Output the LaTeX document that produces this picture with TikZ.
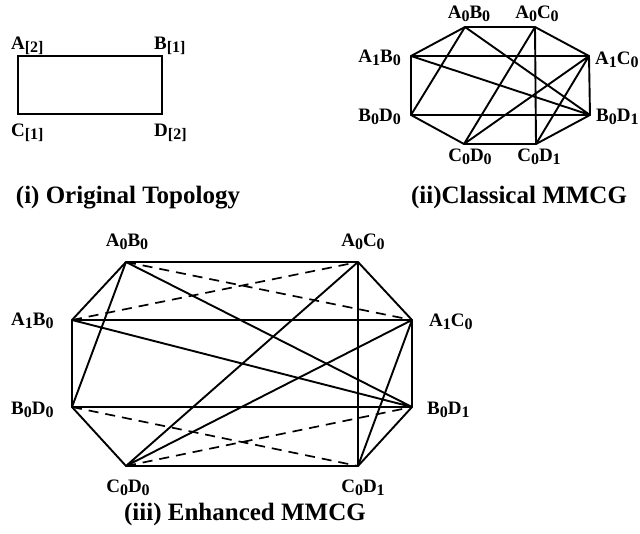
\documentclass[tikz,border=0pt]{standalone}
\usepackage{fontspec}
\setmainfont{Liberation Serif}
\usepackage{tikz}
\usetikzlibrary{calc,positioning}

\newcommand{\lsub}[1]{\raisebox{-3pt}{\fontsize{16}{17}\selectfont#1}}

\tikzset{
	edge/.style={line width=1.9pt},
	dashedge/.style={line width=1.7pt, dash pattern=on 10pt off 7pt},
	vlab/.style={font=\fontsize{19}{22}\selectfont\bfseries, inner sep=0pt},
	caption/.style={font=\fontsize{25}{30}\selectfont\bfseries, inner sep=0pt}
}

\begin{document}
\begin{tikzpicture}[x=1pt,y=-1pt]
		\useasboundingbox (0,0) rectangle (640,534);
		% original topology
		\coordinate (A) at (18,56);
		\coordinate (B) at (162,56);
		\coordinate (C) at (18,114);
		\coordinate (D) at (162,114);
		\draw[edge] (A) -- (B) -- (D) -- (C) -- cycle;
		\node[vlab, anchor=base west] (labA) at (11,50) {A\lsub{[2]}};
		\node[vlab, anchor=base west] (labB) at (154,50) {B\lsub{[1]}};
		\node[vlab, anchor=base west] (labC) at (11,137) {C\lsub{[1]}};
		\node[vlab, anchor=base west] (labD) at (154,137) {D\lsub{[2]}};
		\node[caption, anchor=base] (capi) at (128,204) {(i) Original Topology};
		% classical MMCG
		\coordinate (cA0B0) at (465,27);
		\coordinate (cA0C0) at (535,27);
		\coordinate (cA1B0) at (411,56);
		\coordinate (cA1C0) at (589,56);
		\coordinate (cB0D0) at (411,115);
		\coordinate (cB0D1) at (590,115);
		\coordinate (cC0D0) at (464,144);
		\coordinate (cC0D1) at (536,144);
		\draw[edge] (cA0B0) -- (cA0C0) -- (cA1C0) -- (cB0D1) -- (cC0D1) -- (cC0D0) -- (cB0D0) -- (cA1B0) -- cycle;
		\draw[edge] (cA1B0) -- (cA1C0) (cB0D0) -- (cB0D1) (cA0C0) -- (cC0D1);
		\draw[edge] (cA0B0) -- (cB0D0) (cA0B0) -- (cB0D1) (cA1B0) -- (cB0D1);
		\draw[edge] (cA0C0) -- (cC0D0) (cA1C0) -- (cC0D0) (cA1C0) -- (cC0D1);
		\node[vlab, anchor=base] (lcA0B0) at (469,19) {A\lsub{0}B\lsub{0}};
		\node[vlab, anchor=base] (lcA0C0) at (537,19) {A\lsub{0}C\lsub{0}};
		\node[vlab, anchor=base east] (lcA1B0) at (401,63) {A\lsub{1}B\lsub{0}};
		\node[vlab, anchor=base west] (lcA1C0) at (595,65) {A\lsub{1}C\lsub{0}};
		\node[vlab, anchor=base east] (lcB0D0) at (401,122) {B\lsub{0}D\lsub{0}};
		\node[vlab, anchor=base west] (lcB0D1) at (596,122) {B\lsub{0}D\lsub{1}};
		\node[vlab, anchor=base] (lcC0D0) at (470,162) {C\lsub{0}D\lsub{0}};
		\node[vlab, anchor=base] (lcC0D1) at (539,162) {C\lsub{0}D\lsub{1}};
		\node[caption, anchor=base] (capii) at (519,204) {(ii)Classical MMCG};
		% enhanced MMCG
		\coordinate (eA0B0) at (126,262);
		\coordinate (eA0C0) at (358,262);
		\coordinate (eA1B0) at (72,320);
		\coordinate (eA1C0) at (412,320);
		\coordinate (eB0D0) at (72,407);
		\coordinate (eB0D1) at (412,407);
		\coordinate (eC0D0) at (126,466);
		\coordinate (eC0D1) at (358,466);
		\draw[edge] (eA0B0) -- (eA0C0) -- (eA1C0) -- (eB0D1) -- (eC0D1) -- (eC0D0) -- (eB0D0) -- (eA1B0) -- cycle;
		\draw[edge] (eA1B0) -- (eA1C0) (eB0D0) -- (eB0D1) (eA0C0) -- (eC0D1);
		\draw[edge] (eA0B0) -- (eB0D0) (eA0B0) -- (eB0D1) (eA1B0) -- (eB0D1);
		\draw[edge] (eA0C0) -- (eC0D0) (eA1C0) -- (eC0D0) (eA1C0) -- (eC0D1);
		\draw[dashedge] (eA0B0) -- (eA1C0) (eA1B0) -- (eA0C0);
		\draw[dashedge] (eB0D0) -- (eC0D1) (eC0D0) -- (eB0D1);
		\node[vlab, anchor=base] (leA0B0) at (127,247) {A\lsub{0}B\lsub{0}};
		\node[vlab, anchor=base] (leA0C0) at (363,247) {A\lsub{0}C\lsub{0}};
		\node[vlab, anchor=base west] (leA1B0) at (11,326) {A\lsub{1}B\lsub{0}};
		\node[vlab, anchor=base west] (leA1C0) at (429,327) {A\lsub{1}C\lsub{0}};
		\node[vlab, anchor=base west] (leB0D0) at (11,415) {B\lsub{0}D\lsub{0}};
		\node[vlab, anchor=base west] (leB0D1) at (427,414) {B\lsub{0}D\lsub{1}};
		\node[vlab, anchor=base] (leC0D0) at (128,492) {C\lsub{0}D\lsub{0}};
		\node[vlab, anchor=base] (leC0D1) at (363,492) {C\lsub{0}D\lsub{1}};
		\node[caption, anchor=base] (capiii) at (245,520) {(iii) Enhanced MMCG};
\end{tikzpicture}
\end{document}
